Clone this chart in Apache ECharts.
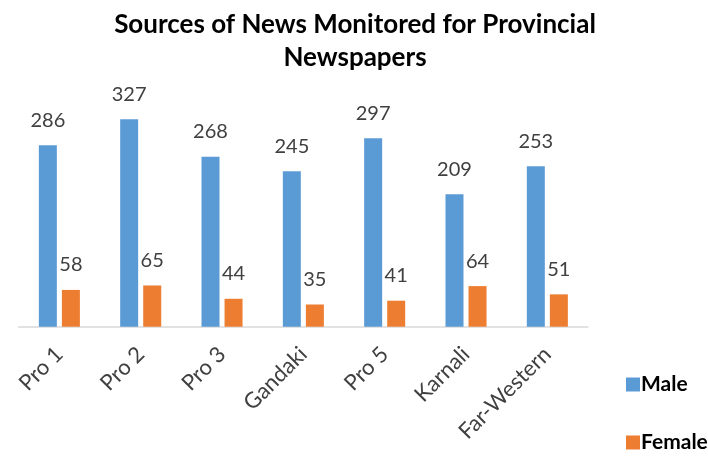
<!DOCTYPE html>
<html>
<head>
<meta charset="utf-8">
<script src="https://cdn.jsdelivr.net/npm/echarts@6/dist/echarts.min.js"></script>
<style>
html,body{margin:0;padding:0;background:#fff;}
#c{width:708px;height:462px;}
</style>
</head>
<body>
<div id="c"></div>
<script>
var categories = ['Pro 1', 'Pro 2', 'Pro 3', 'Gandaki', 'Pro 5', 'Karnali', 'Far-Western'];
var maleValues = [286, 327, 268, 245, 297, 209, 253];
var femaleValues = [58, 65, 44, 35, 41, 64, 51];
var seriesNames = ['Male', 'Female'];
var titleText = 'Sources of News Monitored for Provincial\nNewspapers';

var chart = echarts.init(document.getElementById('c'));
var labelStyle = {
  show: true,
  position: 'top',
  distance: 15,
  color: '#404040',
  fontFamily: 'Lato',
  fontSize: 20
};
chart.setOption({
  animation: false,
  title: {
    text: titleText,
    left: 350,
    textAlign: 'center',
    top: 3,
    textStyle: {
      fontFamily: 'Lato',
      fontWeight: 'bold',
      fontSize: 26,
      lineHeight: 33,
      color: '#000'
    }
  },
  legend: {
    orient: 'vertical',
    left: 621,
    top: 369,
    height: 100,
    itemWidth: 14,
    itemHeight: 14,
    itemGap: 37,
    icon: 'rect',
    textStyle: {
      fontFamily: 'Lato',
      fontWeight: 'bold',
      fontSize: 21,
      color: '#000',
      padding: [0, 0, 0, -4]
    },
    data: seriesNames
  },
  grid: {
    left: 18.7,
    right: 120,
    top: 73,
    bottom: 135.3,
    containLabel: false
  },
  xAxis: {
    type: 'category',
    data: categories,
    axisLine: { lineStyle: { color: '#D9D9D9', width: 1.5 } },
    axisTick: { show: false },
    axisLabel: {
      rotate: 45,
      interval: 0,
      margin: 24,
      color: '#404040',
      fontFamily: 'Lato',
      fontSize: 22
    }
  },
  yAxis: {
    type: 'value',
    min: 0,
    max: 400,
    show: false,
    splitLine: { show: false }
  },
  series: [
    {
      name: seriesNames[0],
      type: 'bar',
      data: maleValues,
      barWidth: 18,
      barGap: '28%',
      itemStyle: { color: '#5B9BD5' },
      label: labelStyle
    },
    {
      name: seriesNames[1],
      type: 'bar',
      data: femaleValues,
      barWidth: 18,
      itemStyle: { color: '#ED7D31' },
      label: labelStyle
    }
  ]
});
</script>
</body>
</html>
